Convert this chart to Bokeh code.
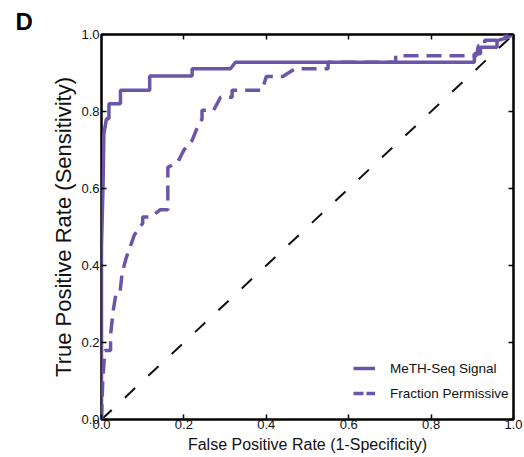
from bokeh.plotting import figure
from bokeh.models import Range1d, LinearAxis, Title, Legend, LegendItem, FixedTicker, ColumnDataSource
from bokeh.embed import file_html
from bokeh.resources import INLINE

# MeTH-Seq Signal ROC curve
signal_fpr = [0.0, 0.0, 0.004, 0.0057, 0.012, 0.018, 0.018, 0.046, 0.046, 0.117, 0.117,
              0.22, 0.22, 0.313, 0.325, 0.905, 0.905, 0.92, 0.92, 0.96, 0.96, 0.98, 1.0]
signal_tpr = [0.0, 0.45, 0.62, 0.742, 0.781, 0.781, 0.82, 0.82, 0.855, 0.855, 0.892,
              0.892, 0.911, 0.911, 0.928, 0.928, 0.95, 0.95, 0.967, 0.967, 0.984, 0.99, 1.0]

# Fraction Permissive ROC curve
frac_fpr = [0.0, 0.003, 0.008, 0.022, 0.022, 0.028, 0.035, 0.045, 0.050, 0.060, 0.070,
            0.080, 0.100, 0.100, 0.120, 0.143, 0.161, 0.161, 0.185, 0.200, 0.220, 0.233,
            0.244, 0.244, 0.272, 0.289, 0.317, 0.317, 0.390, 0.400, 0.440, 0.470, 0.550,
            0.550, 0.714, 0.714, 0.910, 0.915, 0.930, 0.930, 0.960, 0.970, 1.0]
frac_tpr = [0.0, 0.10, 0.179, 0.179, 0.22, 0.28, 0.326, 0.33, 0.38, 0.42, 0.45,
            0.48, 0.51, 0.526, 0.526, 0.545, 0.545, 0.655, 0.668, 0.70, 0.725, 0.76,
            0.78, 0.803, 0.803, 0.837, 0.837, 0.855, 0.855, 0.891, 0.891, 0.911, 0.911,
            0.928, 0.928, 0.945, 0.945, 0.971, 0.971, 0.985, 0.985, 0.995, 1.0]

# chance diagonal
diag_x = [0.0, 1.0]
diag_y = [0.0, 1.0]

ticks = [0.0, 0.2, 0.4, 0.6, 0.8, 1.0]
tick_labels = ["0.0", "0.2", "0.4", "0.6", "0.8", "1.0"]
series_names = ["MeTH-Seq Signal", "Fraction Permissive"]
x_title = "False Positive Rate (1-Specificity)"
y_title = "True Positive Rate (Sensitivity)"
panel_letter = "D"

PURPLE = "#6A55A8"
FONT = "Liberation Sans"
NAN = float("nan")

p = figure(width=524, height=457, output_backend="svg", toolbar_location=None,
           x_range=Range1d(0, 1), y_range=Range1d(0, 1),
           min_border_left=101, min_border_right=11, min_border_top=34, min_border_bottom=38)
p.grid.visible = False
p.outline_line_color = "black"
p.outline_line_width = 2.5
p.background_fill_color = "white"
p.border_fill_color = "white"

def style_axis(ax, show_labels):
    ax.ticker = FixedTicker(ticks=ticks)
    ax.axis_line_color = None
    ax.major_tick_in = 5
    ax.major_tick_out = 0
    ax.major_tick_line_width = 1.5
    ax.major_tick_line_color = "black"
    ax.minor_tick_line_color = None
    ax.major_label_text_font = FONT
    ax.major_label_text_color = "#111111"
    if show_labels:
        ax.major_label_overrides = {t: l for t, l in zip(ticks, tick_labels)}
        ax.major_label_text_font_size = "13px"
    else:
        ax.major_label_overrides = {t: "" for t in ticks}
        ax.major_label_text_font_size = "1px"
        ax.major_label_standoff = 0

style_axis(p.xaxis[0], True)
style_axis(p.yaxis[0], True)
p.xaxis[0].major_label_standoff = 0
p.yaxis[0].major_label_standoff = 2

p.yaxis[0].axis_label = y_title
p.yaxis[0].axis_label_text_font = FONT
p.yaxis[0].axis_label_text_font_size = "22px"
p.yaxis[0].axis_label_text_font_style = "normal"
p.yaxis[0].axis_label_text_color = "#111111"
p.yaxis[0].axis_label_standoff = 2

top_ax = LinearAxis()
right_ax = LinearAxis()
style_axis(top_ax, False)
style_axis(right_ax, False)
p.add_layout(top_ax, "above")
p.add_layout(right_ax, "right")

p.line(diag_x, diag_y, line_color="#111111", line_width=2, line_dash="14 18")
r_sig = p.line(signal_fpr, signal_tpr, line_color=PURPLE, line_width=3.5)
r_frac = p.line(frac_fpr, frac_tpr, line_color=PURPLE, line_width=3.5, line_dash="15 8")

# legend swatches (nothing drawn in the plot area)
leg_src = ColumnDataSource(data=dict(x=[NAN], y=[NAN]))
leg_solid = p.line("x", "y", source=leg_src, line_color=PURPLE, line_width=3.5)
leg_dash = p.line("x", "y", source=leg_src, line_color=PURPLE, line_width=3.5, line_dash="10 3")

legend = Legend(items=[LegendItem(label=series_names[0], renderers=[leg_solid]),
                       LegendItem(label=series_names[1], renderers=[leg_dash])],
                location=(252, 16), border_line_color=None, background_fill_alpha=0,
                padding=0, margin=0, spacing=5, glyph_width=22, glyph_height=20,
                label_height=20, label_standoff=15,
                label_text_font=FONT, label_text_font_size="13.5px", label_text_color="#111111")
p.add_layout(legend)

xt = Title(text=x_title, align="center", offset=12, standoff=4,
           text_font=FONT, text_font_size="16px", text_font_style="normal",
           text_color="#111111")
p.add_layout(xt, "below")

dt = Title(text=panel_letter, align="left", offset=-86, standoff=0,
           text_font=FONT, text_font_size="24px", text_font_style="bold",
           text_color="black")
p.add_layout(dt, "above")

open("out.html", "w").write(file_html(p, INLINE))
